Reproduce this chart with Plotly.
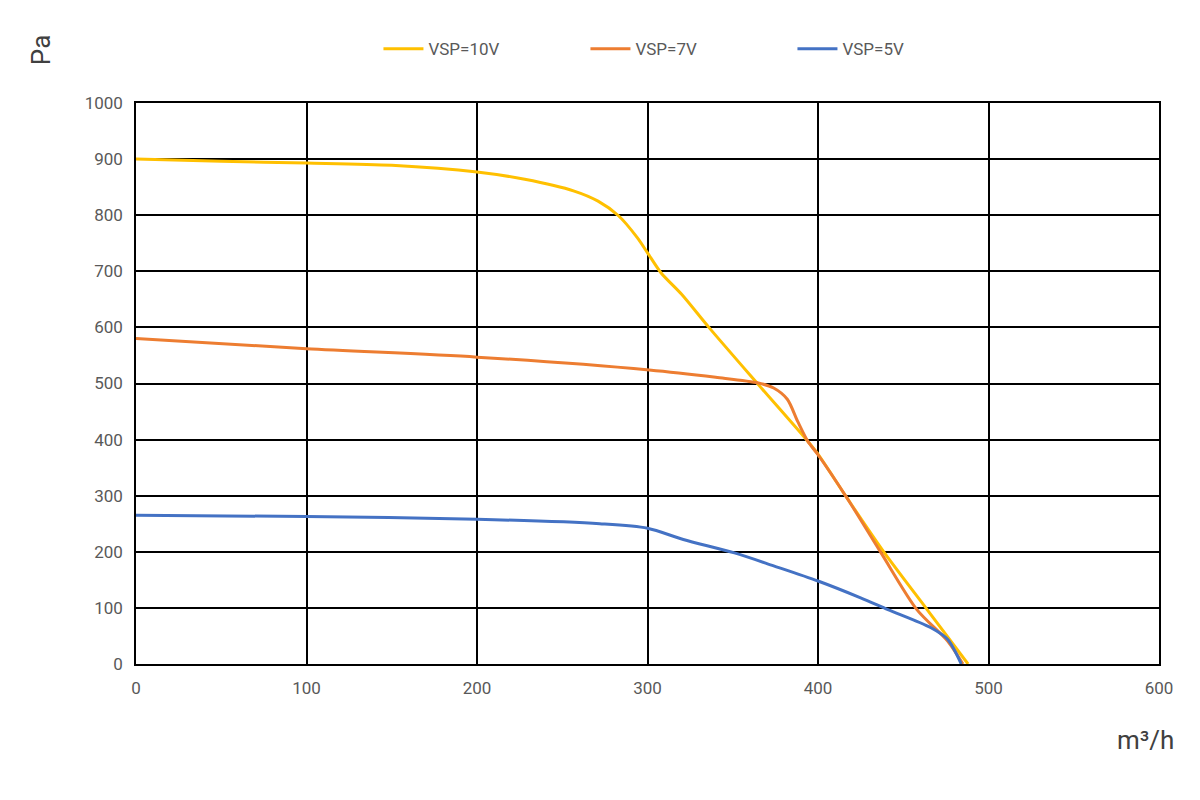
import plotly.graph_objects as go

# airflow (m3/h) and static pressure (Pa)
x_10v = [0, 50, 100, 150, 200, 228, 257, 271, 283, 294, 300, 308, 320, 336, 365, 394, 400, 417, 439, 464, 488]
p_10v = [900, 896, 893, 889, 877, 864, 843, 825, 799, 760, 733, 697, 659, 600, 498, 397, 374, 296, 198, 97, 0]

x_7v = [0, 100, 200, 301, 340, 365, 374, 382, 388, 394, 400, 417, 437, 458, 476, 485]
p_7v = [580, 562, 547, 524, 511, 501, 492, 472, 433, 397, 373, 296, 198, 97, 41, 0]

x_5v = [0, 100, 200, 272, 300, 321, 351, 374, 400, 425, 441, 466, 476, 484]
p_5v = [265, 263, 258, 250, 242, 222, 198, 175, 148, 118, 97, 65, 44, 0]

fig = go.Figure()
fig.add_trace(go.Scatter(x=x_10v, y=p_10v, name="VSP=10V", mode="lines",
                         line=dict(color="#FFC000", width=3, shape="spline", smoothing=0.8)))
fig.add_trace(go.Scatter(x=x_7v, y=p_7v, name="VSP=7V", mode="lines",
                         line=dict(color="#ED7D31", width=3, shape="spline", smoothing=0.8)))
fig.add_trace(go.Scatter(x=x_5v, y=p_5v, name="VSP=5V", mode="lines",
                         line=dict(color="#4472C4", width=3, shape="spline", smoothing=0.8)))

tick_font = dict(family="Roboto", size=17, color="#595959")

fig.update_layout(
    width=1200, height=800,
    margin=dict(l=128, r=49, t=95, b=144),
    paper_bgcolor="white", plot_bgcolor="white",
    font=dict(family="Roboto", color="#595959"),
    showlegend=True,
    legend=dict(orientation="h", x=0.237, y=1.096, xanchor="left", yanchor="middle",
                entrywidth=152, font=dict(size=17, color="#595959"), itemwidth=40),
    xaxis=dict(range=[0, 600], dtick=100, showgrid=True, gridcolor="black", gridwidth=1.5,
               showline=True, linecolor="black", linewidth=1.5, mirror=True,
               zeroline=False, tickfont=tick_font, ticks="", ticklabelstandoff=8),
    yaxis=dict(range=[0, 1000], dtick=100, showgrid=True, gridcolor="black", gridwidth=1.5,
               showline=True, linecolor="black", linewidth=1.5, mirror=True,
               zeroline=False, tickfont=tick_font, ticks="", ticklabelstandoff=8),
    annotations=[
        dict(text="Pa", xref="paper", yref="paper", x=-0.093, y=1.094, showarrow=False,
             textangle=-90, font=dict(family="Roboto", size=26, color="#404040"),
             xanchor="center", yanchor="middle"),
        dict(text="m³/h", xref="paper", yref="paper", x=1.017, y=-0.135, showarrow=False,
             font=dict(family="Roboto", size=26, color="#404040"), xanchor="right", yanchor="middle"),
    ],
)

fig.write_html("out.html")
